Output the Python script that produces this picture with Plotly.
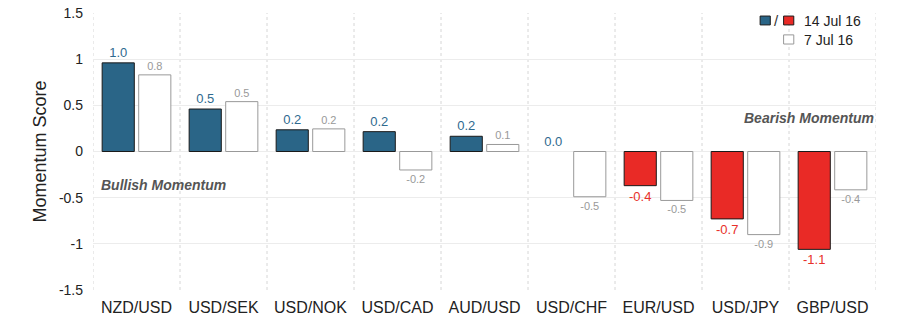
import plotly.graph_objects as go

categories = ["NZD/USD", "USD/SEK", "USD/NOK", "USD/CAD", "AUD/USD", "USD/CHF", "EUR/USD", "USD/JPY", "GBP/USD"]
current_values = [0.96, 0.46, 0.235, 0.215, 0.165, 0.0, -0.37, -0.73, -1.06]
previous_values = [0.83, 0.54, 0.245, -0.2, 0.076, -0.49, -0.53, -0.90, -0.415]
y_ticks = [1.5, 1, 0.5, 0, -0.5, -1, -1.5]
y_tick_labels = ["1.5", "1", "0.5", "0", "-0.5", "-1", "-1.5"]
current_label = "14 Jul 16"
previous_label = "7 Jul 16"
y_title = "Momentum Score"

BLUE = "#2a6587"
RED = "#e92a26"
BLUE_TXT = "#2f6a8f"
RED_TXT = "#e8302a"
FONT = "Liberation Sans, Arial, sans-serif"

x = list(range(len(categories)))
cur_colors = [BLUE if v >= 0 else RED for v in current_values]
cur_text_colors = [BLUE_TXT if v >= 0 else RED_TXT for v in current_values]
cur_line_w = [1 if v != 0 else 0 for v in current_values]

fig = go.Figure()
fig.add_trace(go.Bar(
    x=x, y=current_values, name=current_label,
    marker=dict(color=cur_colors, line=dict(color="#1a1a1a", width=cur_line_w)),
    texttemplate="%{y:.1f}", textposition="outside", cliponaxis=False,
    textfont=dict(size=13, color=cur_text_colors, family=FONT),
    showlegend=False,
))
fig.add_trace(go.Bar(
    x=x, y=previous_values, name=previous_label,
    marker=dict(color="white", line=dict(color="#999999", width=1)),
    texttemplate="%{y:.1f}", textposition="outside", cliponaxis=False,
    textfont=dict(size=11, color="#999999", family=FONT),
    showlegend=False,
))

shapes = []
for k in range(len(categories) + 1):
    shapes.append(dict(type="line", xref="x", yref="paper", x0=k - 0.5, x1=k - 0.5, y0=0, y1=1,
                       line=dict(color="#d6d6d6", width=1, dash="dot"), layer="below"))
# legend glyphs
shapes += [
    dict(type="rect", xref="paper", yref="paper", x0=0.852, x1=0.865, y0=0.957, y1=0.989,
         fillcolor=BLUE, line=dict(color="#1a1a1a", width=1)),
    dict(type="rect", xref="paper", yref="paper", x0=0.882, x1=0.895, y0=0.957, y1=0.989,
         fillcolor=RED, line=dict(color="#1a1a1a", width=1)),
    dict(type="rect", xref="paper", yref="paper", x0=0.882, x1=0.895, y0=0.888, y1=0.921,
         fillcolor="white", line=dict(color="#999999", width=1)),
]

annotations = [
    dict(text="/", xref="paper", yref="paper", x=0.8735, y=0.973, xanchor="center", yanchor="middle",
         showarrow=False, font=dict(size=15, color="#333", family=FONT)),
    dict(text=current_label, xref="paper", yref="paper", x=0.906, y=0.970, xanchor="left",
         yanchor="middle", showarrow=False, font=dict(size=14, color="#222", family=FONT)),
    dict(text=previous_label, xref="paper", yref="paper", x=0.906, y=0.904, xanchor="left",
         yanchor="middle", showarrow=False, font=dict(size=14, color="#222", family=FONT)),
    dict(text="<b><i>Bullish Momentum</i></b>", xref="paper", yref="paper", x=0.008, y=0.379,
         xanchor="left", yanchor="middle", showarrow=False,
         font=dict(size=14, color="#555", family=FONT)),
    dict(text="<b><i>Bearish Momentum</i></b>", xref="paper", yref="paper", x=1.0, y=0.621,
         xanchor="right", yanchor="middle", showarrow=False,
         font=dict(size=14, color="#555", family=FONT)),
    dict(text=y_title, xref="paper", yref="paper", x=-0.0677, y=0.5, textangle=-90,
         xanchor="center", yanchor="middle", showarrow=False,
         font=dict(size=18, color="#222", family=FONT)),
]

fig.update_layout(
    width=918, height=331,
    margin=dict(l=93, r=42, t=13, b=41),
    paper_bgcolor="white", plot_bgcolor="white",
    barmode="group", bargap=0.16, bargroupgap=0.12,
    font=dict(family=FONT, color="#222"),
    shapes=shapes, annotations=annotations,
    xaxis=dict(range=[-0.5, len(categories) - 0.5], tickvals=x, ticktext=categories,
               showgrid=False, zeroline=False, showline=False, ticks="",
               automargin=False, ticklabelstandoff=6,
               tickfont=dict(size=16, color="#222")),
    yaxis=dict(range=[-1.5, 1.5], tickvals=y_ticks, ticktext=y_tick_labels,
               showgrid=True, gridcolor="#ececec", gridwidth=1,
               zeroline=True, zerolinecolor="#ececec", zerolinewidth=1,
               showline=False, ticks="", automargin=False, ticklabelstandoff=9,
               tickfont=dict(size=14, color="#222")),
)

fig.write_html("out.html")
